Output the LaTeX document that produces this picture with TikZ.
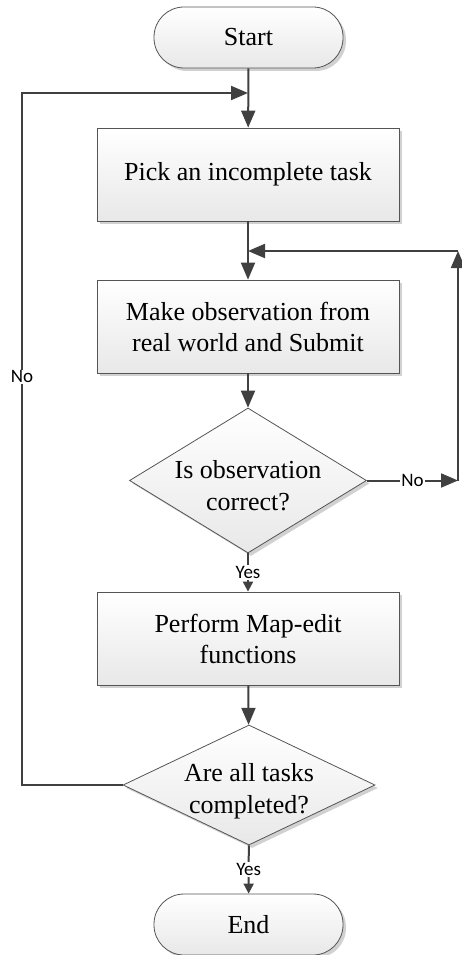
\documentclass[tikz,border=0pt]{standalone}
\usepackage{fontspec}
\setmainfont{Liberation Serif}
\newfontfamily\lblfont{Carlito}
\usetikzlibrary{arrows.meta,shapes.geometric,shadows}
\definecolor{linec}{HTML}{404040}
\definecolor{bordc}{HTML}{555555}
\begin{document}
\begin{tikzpicture}[x=1pt,y=-1pt,
 base/.style={draw=bordc, line width=0.8pt, top color=white, bottom color=black!9,
   drop shadow={shadow xshift=3pt, shadow yshift=-3pt, fill=black!18, opacity=1},
   font=\fontsize{26}{31}\selectfont, align=center, inner sep=0pt},
 proc/.style={base, rectangle, minimum width=302pt, minimum height=93pt},
 term/.style={base, rectangle, rounded corners=30pt, minimum width=189pt, minimum height=61pt},
 dec/.style={base, diamond},
 txt/.style={font=\fontsize{26}{32}\selectfont, align=center, inner sep=0pt},
 arr/.style={draw=linec, line width=2pt, line join=miter, -{Triangle[length=17pt,width=14pt]}},
 yarr/.style={draw=linec, line width=2pt, -{Triangle[length=10pt,width=10pt]}},
 lbl/.style={font=\lblfont\fontsize{19}{22}\selectfont, fill=white, inner sep=1pt}]
\useasboundingbox (0,0) rectangle (461,955);

\node[term] (start) at (248.5,37.5) {Start};
\node[proc] (pick) at (248,174.5) {Pick an incomplete task};
\node[proc] (make) at (248,326.5) {Make observation from\\real world and Submit};
\node[dec, minimum width=237pt, minimum height=145pt] (d1) at (248,480.5) {};
\node[txt] (d1t) at (248,486) {Is observation\\correct?};
\node[proc] (perf) at (248,638.5) {Perform Map-edit\\functions};
\node[dec, minimum width=252pt, minimum height=120pt] (d2) at (249,785) {};
\node[txt] (d2t) at (249,791) {Are all tasks\\completed?};
\node[term] (end) at (248.5,924.5) {End};

\coordinate (m1) at (248,93);
\coordinate (m2) at (248,251);
\coordinate (r1) at (458,480.5);
\coordinate (r2) at (458,251);
\coordinate (l1) at (22,785);
\coordinate (l2) at (22,93);

\draw[arr] (start) -- (pick);
\draw[arr] (pick) -- (make);
\draw[arr] (make) -- (d1);
\draw[yarr] (d1) -- node[lbl]{Yes} (perf);
\draw[arr] (perf) -- (d2);
\draw[yarr] (d2) -- node[lbl]{Yes} (end);

\draw[arr] (d1.east) -- node[lbl]{No} (r1);
\draw[arr] (r1) -- (r2);
\draw[arr] (r2) -- (m2);

\draw[arr] (d2.west) -- (l1) -- node[lbl,pos=0.59]{No} (l2) -- (m1);
\end{tikzpicture}
\end{document}
